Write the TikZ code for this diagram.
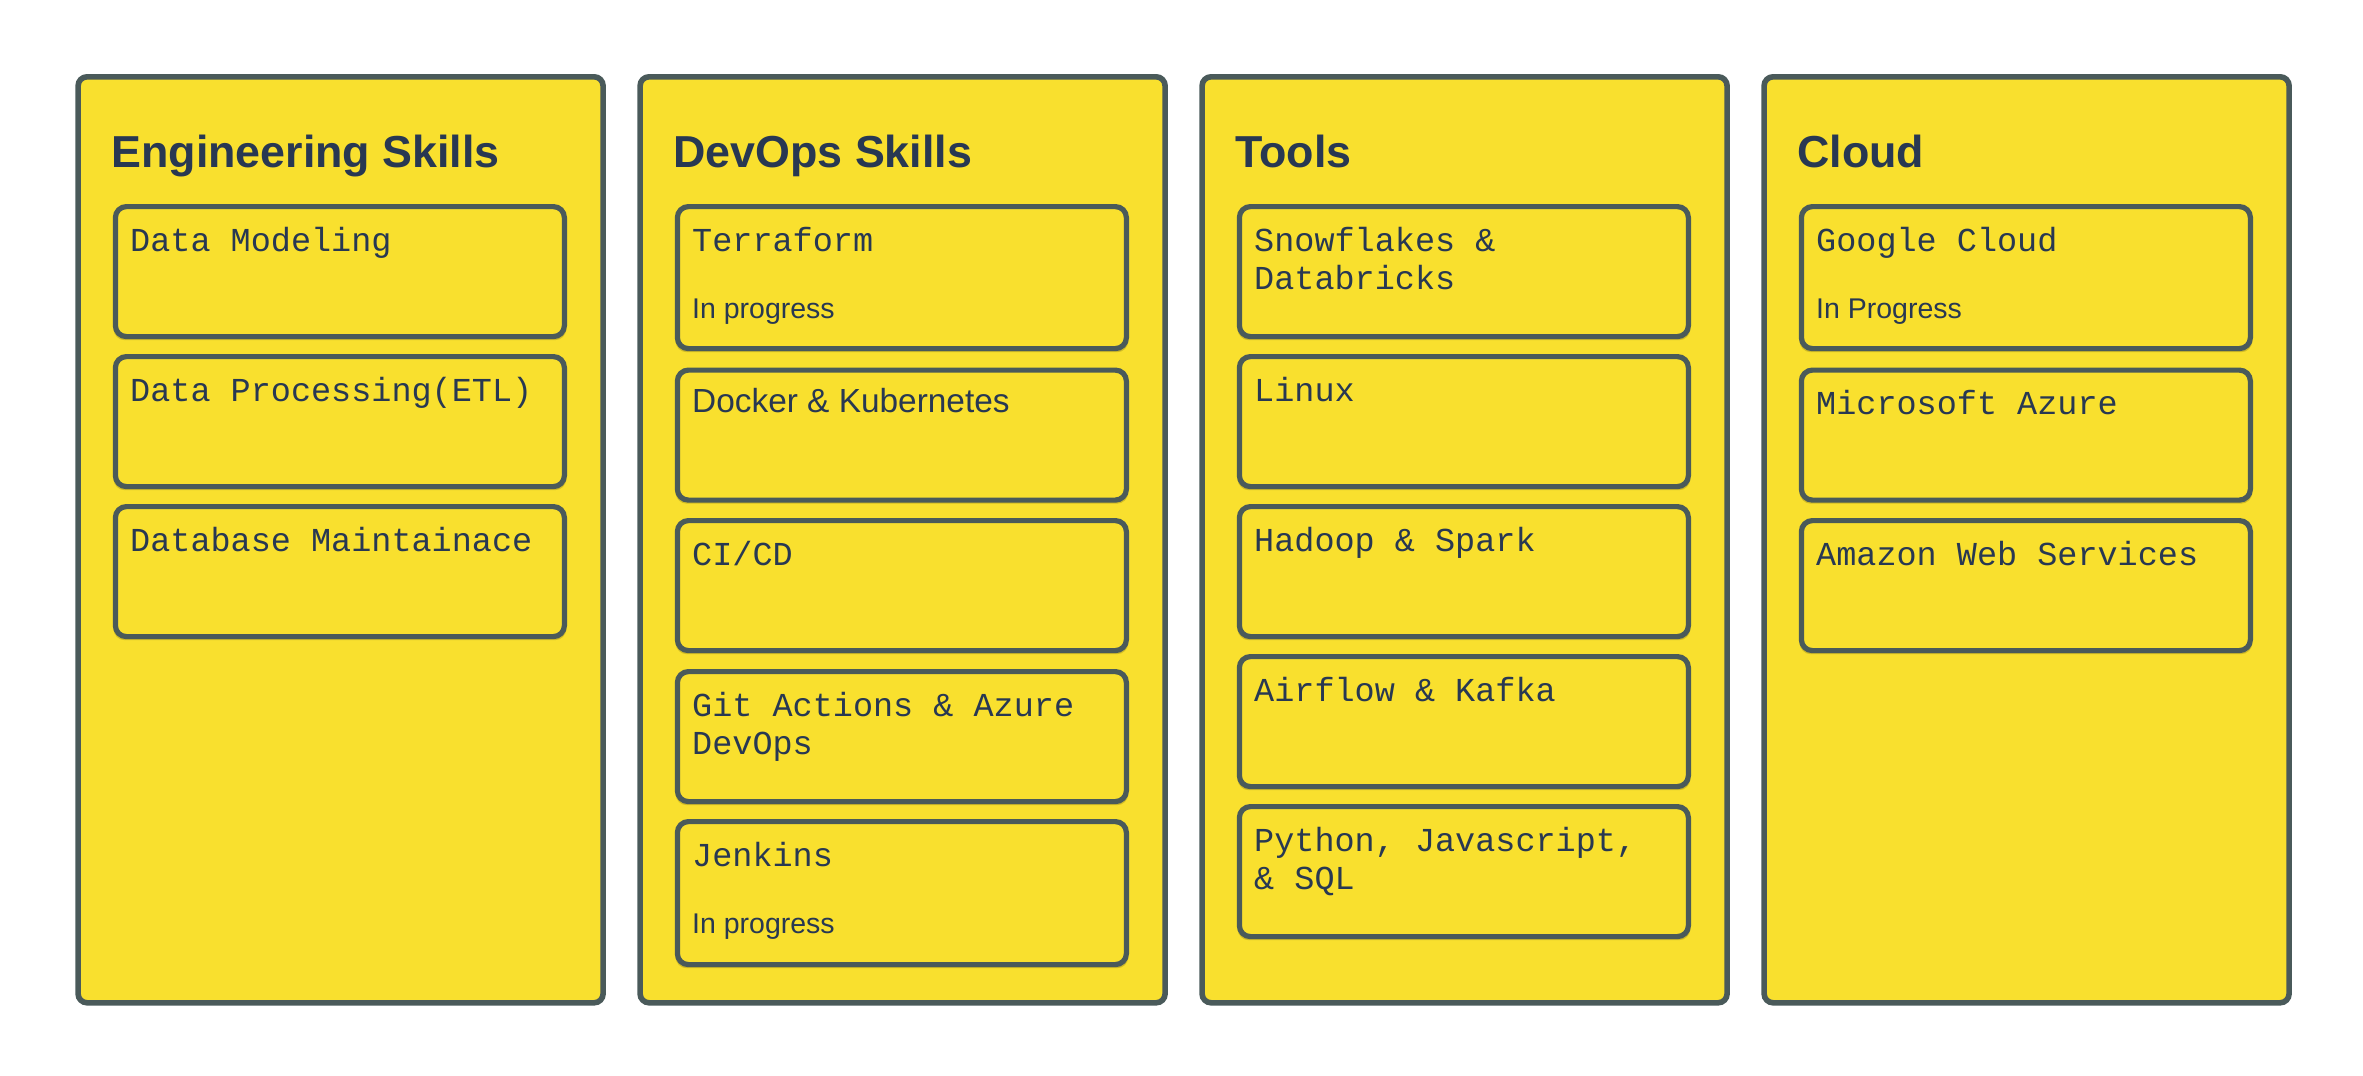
\documentclass[tikz,border=0pt]{standalone}
\usepackage{fontspec}
\setmainfont{Liberation Sans}
\newfontfamily\cardmono{Liberation Mono}
\newfontfamily\cardsans{Liberation Sans}
\usetikzlibrary{shadows}
\definecolor{stickyfill}{RGB}{249,224,46}
\definecolor{edgegray}{RGB}{74,90,90}
\definecolor{inktext}{RGB}{40,56,82}
\tikzset{
  colbox/.style={draw=edgegray, line width=2.8pt, fill=stickyfill, rounded corners=4.5pt,
    minimum width=262.5pt, minimum height=463pt, anchor=north west, inner sep=0pt},
  cardbox/.style={draw=edgegray, line width=2.6pt, fill=stickyfill, rounded corners=5.5pt,
    minimum width=224.5pt, minimum height=65pt, anchor=north west, inner sep=0pt,
    drop shadow={opacity=0.3, shadow xshift=0pt, shadow yshift=-1.5pt, shadow scale=1.008,
      fill=black!55!stickyfill}},
  tallcard/.style={cardbox, minimum height=71pt},
  coltitle/.style={font=\cardsans\bfseries\fontsize{22.4}{26}\selectfont, text=inktext,
    anchor=base west, inner sep=0pt},
  monotext/.style={font=\cardmono\fontsize{16.75}{19.15}\selectfont, text=inktext,
    anchor=base west, inner sep=0pt, align=left},
  sanstext/.style={font=\cardsans\fontsize{16.7}{19.15}\selectfont, text=inktext,
    anchor=base west, inner sep=0pt},
  notetext/.style={font=\cardsans\fontsize{14.25}{17}\selectfont, text=inktext,
    anchor=base west, inner sep=0pt},
}
\begin{document}
\begin{tikzpicture}[x=0.5pt, y=-0.5pt]
\useasboundingbox (0,0) rectangle (2363,1076);
% columns
\node[colbox] (col1) at (75.3,74) {};
\node[colbox] (col2) at (637.3,74) {};
\node[colbox] (col3) at (1199.3,74) {};
\node[colbox] (col4) at (1761.3,74) {};
% titles
\node[coltitle] (h1) at (111,167.3) {Engineering Skills};
\node[coltitle] (h2) at (673,167.3) {DevOps Skills};
\node[coltitle] (h3) at (1235,167.3) {Tools};
\node[coltitle] (h4) at (1797,167.3) {Cloud};
% column 1
\node[cardbox] (a1) at (112.8,204) {};
\node[cardbox] (a2) at (112.8,354) {};
\node[cardbox] (a3) at (112.8,504) {};
\node[monotext] (ta1) at ([xshift=8.5pt,yshift=-23.5pt]a1.north west) {Data Modeling};
\node[monotext] (ta2) at ([xshift=8.5pt,yshift=-23.5pt]a2.north west) {Data Processing(ETL)};
\node[monotext] (ta3) at ([xshift=8.5pt,yshift=-23.5pt]a3.north west) {Database Maintainace};
% column 2
\node[tallcard] (b1) at (674.8,204) {};
\node[cardbox] (b2) at (674.8,367.5) {};
\node[cardbox] (b3) at (674.8,518) {};
\node[cardbox] (b4) at (674.8,669) {};
\node[tallcard, minimum height=71.5pt] (b5) at (674.8,819) {};
\node[monotext] (tb1) at ([xshift=8.5pt,yshift=-23.5pt]b1.north west) {Terraform};
\node[notetext] (nb1) at ([xshift=8.5pt,yshift=-57pt]b1.north west) {In progress};
\node[sanstext] (tb2) at ([xshift=8.5pt,yshift=-22.5pt]b2.north west) {Docker \& Kubernetes};
\node[monotext] (tb3) at ([xshift=8.5pt,yshift=-23.5pt]b3.north west) {CI/CD};
\node[monotext] (tb4) at ([xshift=8.5pt,yshift=-42.65pt]b4.north west) {Git Actions \& Azure\\DevOps};
\node[monotext] (tb5) at ([xshift=8.5pt,yshift=-23.5pt]b5.north west) {Jenkins};
\node[notetext] (nb5) at ([xshift=8.5pt,yshift=-57pt]b5.north west) {In progress};
% column 3
\node[cardbox] (c1) at (1236.8,204) {};
\node[cardbox] (c2) at (1236.8,354) {};
\node[cardbox] (c3) at (1236.8,504) {};
\node[cardbox] (c4) at (1236.8,654) {};
\node[cardbox] (c5) at (1236.8,804) {};
\node[monotext] (tc1) at ([xshift=8.5pt,yshift=-42.65pt]c1.north west) {Snowflakes \&\\Databricks};
\node[monotext] (tc2) at ([xshift=8.5pt,yshift=-23.5pt]c2.north west) {Linux};
\node[monotext] (tc3) at ([xshift=8.5pt,yshift=-23.5pt]c3.north west) {Hadoop \& Spark};
\node[monotext] (tc4) at ([xshift=8.5pt,yshift=-23.5pt]c4.north west) {Airflow \& Kafka};
\node[monotext] (tc5) at ([xshift=8.5pt,yshift=-42.65pt]c5.north west) {Python, Javascript,\\\& SQL};
% column 4
\node[tallcard] (d1) at (1798.8,204) {};
\node[cardbox] (d2) at (1798.8,367.5) {};
\node[cardbox] (d3) at (1798.8,518) {};
\node[monotext] (td1) at ([xshift=8.5pt,yshift=-23.5pt]d1.north west) {Google Cloud};
\node[notetext] (nd1) at ([xshift=8.5pt,yshift=-57pt]d1.north west) {In Progress};
\node[monotext] (td2) at ([xshift=8.5pt,yshift=-23.5pt]d2.north west) {Microsoft Azure};
\node[monotext] (td3) at ([xshift=8.5pt,yshift=-23.5pt]d3.north west) {Amazon Web Services};
\end{tikzpicture}
\end{document}
